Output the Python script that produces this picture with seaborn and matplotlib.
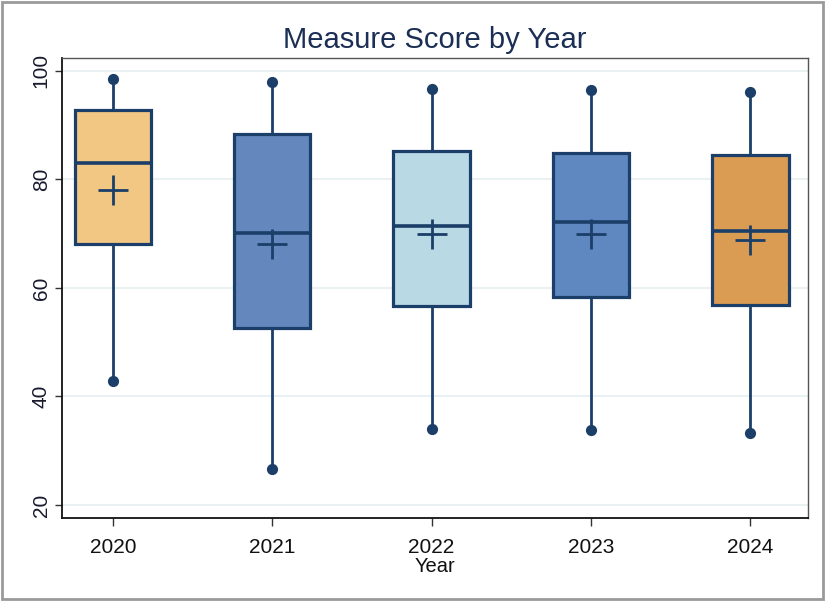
import numpy as np
import pandas as pd
import matplotlib.pyplot as plt
import seaborn as sns
from matplotlib.patches import Rectangle

years = ["2020", "2021", "2022", "2023", "2024"]
mins = [42.9, 26.6, 34.0, 33.9, 33.2]
q1s = [68.1, 52.6, 56.6, 58.3, 56.9]
medians = [83.0, 70.1, 71.4, 72.1, 70.4]
q3s = [92.8, 88.4, 85.3, 84.9, 84.4]
maxs = [98.5, 98.0, 96.7, 96.5, 96.1]
means = [78.1, 68.1, 70.0, 70.0, 68.9]

box_colors = ["#F2C784", "#6487BE", "#B9DAE5", "#5F88C1", "#DA9C52"]
navy = "#1B3F68"

# five-number summaries -> each year's box (percentiles of 5 points land exactly on them)
rows = []
for i, y in enumerate(years):
    for v in (mins[i], q1s[i], medians[i], q3s[i], maxs[i]):
        rows.append({"Year": y, "Score": v})
df = pd.DataFrame(rows)
ends = pd.DataFrame({"Year": years * 2, "Score": mins + maxs})
mean_df = pd.DataFrame({"Year": years, "Score": means})

sns.set_theme(style="white")
plt.rcParams['font.family'] = ['Liberation Sans', 'DejaVu Sans']

fig = plt.figure(figsize=(8.25, 6.01), dpi=100)
ax = fig.add_axes([0.075, 0.138, 0.904, 0.766])

sns.boxplot(
    data=df, x="Year", y="Score", hue="Year", order=years, hue_order=years,
    palette=box_colors, saturation=1, legend=False, whis=np.inf, width=0.48,
    showcaps=False, showfliers=False, ax=ax,
    boxprops=dict(edgecolor=navy, linewidth=2.3),
    medianprops=dict(color=navy, linewidth=2.6),
    whiskerprops=dict(color=navy, linewidth=2.0),
)
sns.scatterplot(data=ends, x="Year", y="Score", color=navy, s=65,
                edgecolor=navy, linewidth=0, ax=ax, zorder=5)
sns.scatterplot(data=mean_df, x="Year", y="Score", color=navy, marker="+",
                s=480, linewidth=2.0, ax=ax, zorder=6)

ax.set_ylim(17.6, 102.4)
ax.set_xlim(-0.32, 4.36)
ax.set_yticks([20, 40, 60, 80, 100])
ax.yaxis.grid(True, color="#EAF1F2", linewidth=1.5)
ax.set_axisbelow(True)
ax.tick_params(axis="y", left=True, length=5, width=1, color="#333333",
               labelsize=15, labelrotation=90, pad=3, labelcolor="#1a1a2e")
ax.tick_params(axis="x", bottom=True, length=6, width=1, color="#333333",
               labelsize=15, pad=8, labelcolor="#111111")
for lab in ax.get_yticklabels():
    lab.set_va("center")
ax.set_xlabel("Year", fontsize=14.5, labelpad=0, color="#111111")
ax.set_ylabel("")
ax.set_title("Measure Score by Year", fontsize=21, color="#1B2F55", pad=7)

for side in ["left", "bottom"]:
    ax.spines[side].set_color("#111111")
    ax.spines[side].set_linewidth(1.3)
for side in ["top", "right"]:
    ax.spines[side].set_color("#555555")
    ax.spines[side].set_linewidth(1.0)

fig.patches.append(Rectangle((0.002, 0.003), 0.996, 0.994, transform=fig.transFigure,
                             fill=False, edgecolor="#9a9a9a", linewidth=2))

fig.savefig("out.png", dpi=100)
